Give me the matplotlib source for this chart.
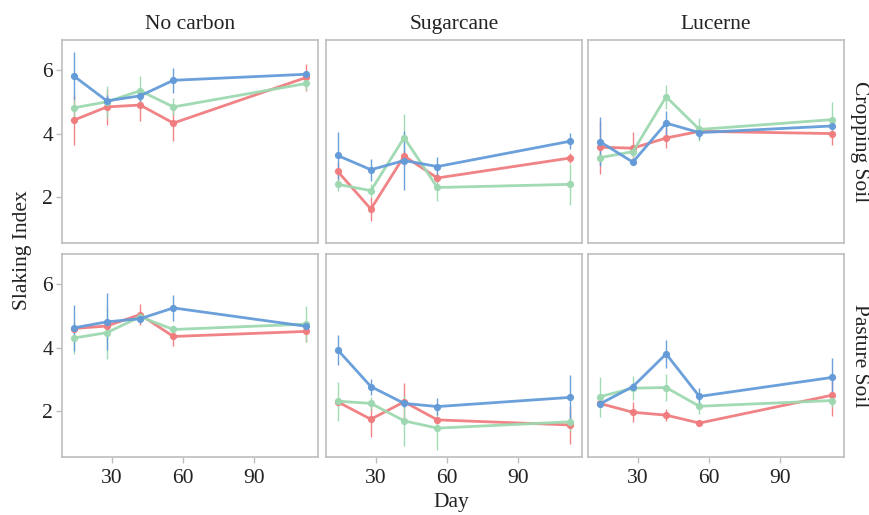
import matplotlib
matplotlib.use("Agg")
import matplotlib.pyplot as plt
import numpy as np

plt.rcParams['font.family'] = ['Liberation Serif', 'DejaVu Serif']

days = [14, 28, 42, 56, 112]
carbons = ["No carbon", "Sugarcane", "Lucerne"]
soils = ["Cropping Soil", "Pasture Soil"]
series_names = ["red", "green", "blue"]
colors = {"red": "#F07C7E", "green": "#9DD8B0", "blue": "#639BD8"}

# Cropping Soil
crop_nc_red = [4.42, 4.84, 4.90, 4.33, 5.77]
crop_nc_red_err = [0.79, 0.58, 0.49, 0.55, 0.42]
crop_nc_green = [4.81, 5.00, 5.35, 4.84, 5.58]
crop_nc_green_err = [0.34, 0.50, 0.46, 0.27, 0.20]
crop_nc_blue = [5.82, 5.03, 5.19, 5.68, 5.87]
crop_nc_blue_err = [0.74, 0.20, 0.15, 0.40, 0.10]

crop_sc_red = [2.81, 1.62, 3.29, 2.60, 3.23]
crop_sc_red_err = [0.30, 0.38, 0.20, 0.15, 0.15]
crop_sc_green = [2.40, 2.20, 3.87, 2.30, 2.40]
crop_sc_green_err = [0.20, 0.20, 0.76, 0.42, 0.64]
crop_sc_blue = [3.31, 2.86, 3.15, 2.96, 3.76]
crop_sc_blue_err = [0.73, 0.34, 0.93, 0.31, 0.25]

crop_lu_red = [3.57, 3.54, 3.86, 4.07, 4.00]
crop_lu_red_err = [0.84, 0.50, 0.30, 0.10, 0.35]
crop_lu_green = [3.24, 3.43, 5.16, 4.13, 4.44]
crop_lu_green_err = [0.20, 0.20, 0.37, 0.37, 0.56]
crop_lu_blue = [3.75, 3.10, 4.33, 4.03, 4.24]
crop_lu_blue_err = [0.77, 0.10, 0.37, 0.20, 0.10]

# Pasture Soil
past_nc_red = [4.60, 4.68, 5.04, 4.35, 4.51]
past_nc_red_err = [0.10, 0.10, 0.33, 0.29, 0.34]
past_nc_green = [4.30, 4.47, 4.97, 4.57, 4.74]
past_nc_green_err = [0.50, 0.82, 0.10, 0.15, 0.56]
past_nc_blue = [4.62, 4.81, 4.91, 5.25, 4.67]
past_nc_blue_err = [0.72, 0.90, 0.15, 0.40, 0.10]

past_sc_red = [2.29, 1.74, 2.29, 1.72, 1.56]
past_sc_red_err = [0.10, 0.55, 0.58, 0.10, 0.61]
past_sc_green = [2.31, 2.24, 1.69, 1.46, 1.66]
past_sc_green_err = [0.61, 0.20, 0.79, 0.70, 0.30]
past_sc_blue = [3.93, 2.77, 2.24, 2.14, 2.43]
past_sc_blue_err = [0.48, 0.25, 0.10, 0.26, 0.69]

past_lu_red = [2.24, 1.96, 1.87, 1.62, 2.50]
past_lu_red_err = [0.10, 0.32, 0.20, 0.10, 0.65]
past_lu_green = [2.45, 2.72, 2.74, 2.15, 2.33]
past_lu_green_err = [0.63, 0.37, 0.43, 0.25, 0.20]
past_lu_blue = [2.22, 2.77, 3.80, 2.46, 3.06]
past_lu_blue_err = [0.10, 0.10, 0.44, 0.26, 0.60]

data = {
    ("Cropping Soil", "No carbon"): [(crop_nc_red, crop_nc_red_err), (crop_nc_green, crop_nc_green_err), (crop_nc_blue, crop_nc_blue_err)],
    ("Cropping Soil", "Sugarcane"): [(crop_sc_red, crop_sc_red_err), (crop_sc_green, crop_sc_green_err), (crop_sc_blue, crop_sc_blue_err)],
    ("Cropping Soil", "Lucerne"): [(crop_lu_red, crop_lu_red_err), (crop_lu_green, crop_lu_green_err), (crop_lu_blue, crop_lu_blue_err)],
    ("Pasture Soil", "No carbon"): [(past_nc_red, past_nc_red_err), (past_nc_green, past_nc_green_err), (past_nc_blue, past_nc_blue_err)],
    ("Pasture Soil", "Sugarcane"): [(past_sc_red, past_sc_red_err), (past_sc_green, past_sc_green_err), (past_sc_blue, past_sc_blue_err)],
    ("Pasture Soil", "Lucerne"): [(past_lu_red, past_lu_red_err), (past_lu_green, past_lu_green_err), (past_lu_blue, past_lu_blue_err)],
}

W, H = 869, 515
fig = plt.figure(figsize=(W / 100, H / 100), dpi=100)

col_left = [62, 326, 588]
col_w = 256
row_top = [40, 254]
row_h = 203
border = "#BEBEBE"
text_c = "#222222"
fs = 15.5

for r, soil in enumerate(soils):
    for c, carb in enumerate(carbons):
        ax = fig.add_axes([col_left[c] / W, 1 - (row_top[r] + row_h) / H, col_w / W, row_h / H])
        for name, (vals, errs) in zip(series_names, data[(soil, carb)]):
            col = colors[name]
            ax.errorbar(days, vals, yerr=errs, color=col, ecolor=col, elinewidth=1.0,
                        capsize=0, lw=2.0, marker='o', ms=4.2, alpha=0.95)
        ax.set_xlim(9.1, 116.9)
        ax.set_ylim(0.55, 6.95)
        ax.set_xticks([30, 60, 90])
        ax.set_yticks([2, 4, 6])
        for s in ax.spines.values():
            s.set_color(border)
            s.set_linewidth(1.2)
        ax.tick_params(colors=border, length=4.5, width=1.0, labelcolor=text_c,
                       labelsize=fs, pad=2)
        ax.tick_params(axis='x', pad=4)
        if c != 0:
            ax.tick_params(axis='y', left=False, labelleft=False)
        if r != 1:
            ax.tick_params(axis='x', bottom=False, labelbottom=False)
        if r == 0:
            ax.set_title(carb, fontsize=fs, color=text_c, pad=8)
        if c == 2:
            ax.text(1.025, 0.5, soil, transform=ax.transAxes, rotation=-90,
                    va='center', ha='left', fontsize=fs, color=text_c)

fig.text(23 / W, 1 - 250 / H, "Slaking Index", rotation=90, va='center', ha='center',
         fontsize=fs, color=text_c)
fig.text(451 / W, 1 - 503 / H, "Day", va='center', ha='center', fontsize=fs, color=text_c)

fig.savefig("out.png", dpi=100, facecolor='white')
